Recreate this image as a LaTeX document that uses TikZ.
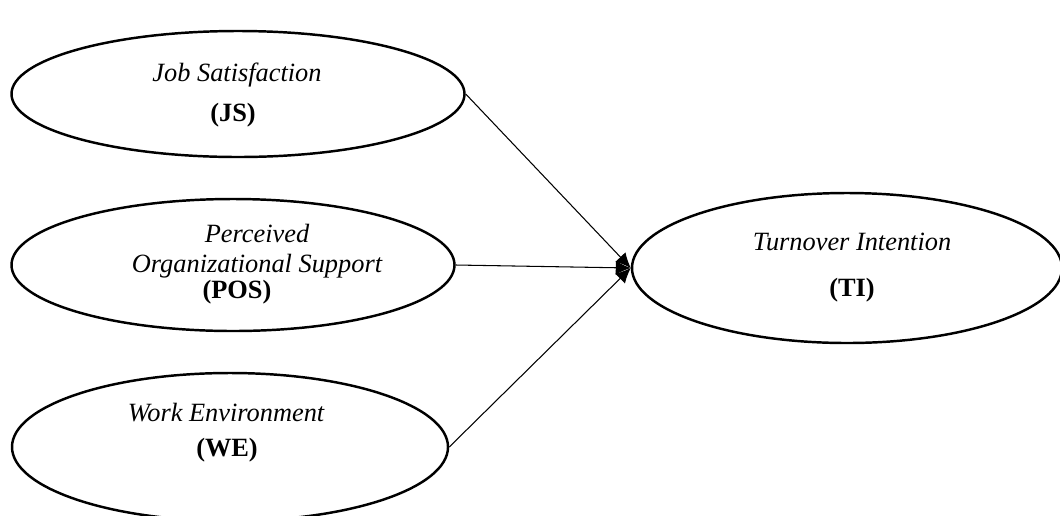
\documentclass[tikz,border=0pt]{standalone}
\usepackage{fontspec}
\setmainfont{Liberation Serif}
\usetikzlibrary{shapes.geometric,arrows.meta}

\begin{document}
\begin{tikzpicture}[
        construct/.style={ellipse,draw,line width=1.4pt,inner sep=0pt},
        title/.style={align=center,font=\fontsize{15}{17}\selectfont\itshape},
        abbrev/.style={font=\fontsize{15}{17}\selectfont\bfseries},
        link/.style={-{Latex[length=3mm,width=2.8mm]},line width=0.6pt}
    ]

    \useasboundingbox (0,0) rectangle (21.2,-10.3);
    \clip (0,0) rectangle (21.2,-10.3);

    \node[construct,minimum width=9.06cm,minimum height=2.52cm] (js) at (4.76,-1.88) {};
    \node[title] (js-name) at (4.74,-1.50) {Job Satisfaction};
    \node[abbrev] (js-abbr) at (4.66,-2.30) {(JS)};

    \node[construct,minimum width=8.86cm,minimum height=2.64cm] (pos) at (4.66,-5.30) {};
    \node[title] (pos-name) at (5.14,-5.02) {Perceived\\Organizational Support};
    \node[abbrev] (pos-abbr) at (4.74,-5.84) {(POS)};

    \node[construct,minimum width=8.72cm,minimum height=2.96cm] (we) at (4.60,-8.94) {};
    \node[title] (we-name) at (4.52,-8.26) {Work Environment};
    \node[abbrev] (we-abbr) at (4.54,-9.00) {(WE)};

    \node[construct,minimum width=8.60cm,minimum height=3.00cm] (ti) at (16.94,-5.36) {};
    \node[title] (ti-name) at (17.04,-4.84) {Turnover Intention};
    \node[abbrev] (ti-abbr) at (17.04,-5.80) {(TI)};

    \draw[link] (js.east) -- (ti.west);
    \draw[link] (pos.east) -- (ti.west);
    \draw[link] (we.east) -- (ti.west);

    \end{tikzpicture}
\end{document}
